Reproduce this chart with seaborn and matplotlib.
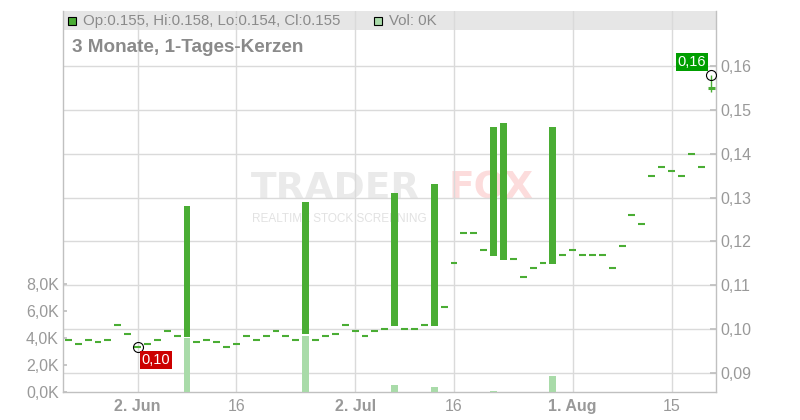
import numpy as np
import pandas as pd
import seaborn as sns
import matplotlib.pyplot as plt
from matplotlib.patches import Rectangle

# daily candles, 3 months (trading days only)
opens = [0.0975, 0.0966, 0.0975, 0.0971, 0.0975, 0.1009, 0.0989, 0.0959, 0.0966, 0.0975,
         0.0996, 0.0984, 0.0983, 0.0971, 0.0975, 0.0971, 0.0959, 0.0966, 0.0984, 0.0975,
         0.0984, 0.0996, 0.0984, 0.0975, 0.0989, 0.0975, 0.0984, 0.0989, 0.1009, 0.0996,
         0.0984, 0.0996, 0.1000, 0.1008, 0.1000, 0.1000, 0.1009, 0.1008, 0.1051, 0.1151,
         0.1219, 0.1219, 0.1180, 0.1167, 0.1158, 0.1160, 0.1119, 0.1139, 0.1151, 0.1149,
         0.1169, 0.1180, 0.1169, 0.1169, 0.1169, 0.1139, 0.1190, 0.1260, 0.1240, 0.1349,
         0.1370, 0.1361, 0.1349, 0.1399, 0.1370, 0.1550]
closes = [0.0975, 0.0966, 0.0975, 0.0971, 0.0975, 0.1009, 0.0989, 0.0959, 0.0966, 0.0975,
          0.0996, 0.0984, 0.1281, 0.0971, 0.0975, 0.0971, 0.0959, 0.0966, 0.0984, 0.0975,
          0.0984, 0.0996, 0.0984, 0.0975, 0.1290, 0.0975, 0.0984, 0.0989, 0.1009, 0.0996,
          0.0984, 0.0996, 0.1000, 0.1311, 0.1000, 0.1000, 0.1009, 0.1331, 0.1051, 0.1151,
          0.1219, 0.1219, 0.1180, 0.1462, 0.1470, 0.1160, 0.1119, 0.1139, 0.1151, 0.1462,
          0.1169, 0.1180, 0.1169, 0.1169, 0.1169, 0.1139, 0.1190, 0.1260, 0.1240, 0.1349,
          0.1370, 0.1361, 0.1349, 0.1399, 0.1370, 0.1550]
highs = [0.0975, 0.0966, 0.0975, 0.0971, 0.0975, 0.1009, 0.0989, 0.0959, 0.0966, 0.0975,
         0.0996, 0.0984, 0.1281, 0.0971, 0.0975, 0.0971, 0.0959, 0.0966, 0.0984, 0.0975,
         0.0984, 0.0996, 0.0984, 0.0975, 0.1290, 0.0975, 0.0984, 0.0989, 0.1009, 0.0996,
         0.0984, 0.0996, 0.1000, 0.1311, 0.1000, 0.1000, 0.1009, 0.1331, 0.1051, 0.1151,
         0.1219, 0.1219, 0.1180, 0.1462, 0.1470, 0.1160, 0.1119, 0.1139, 0.1151, 0.1462,
         0.1169, 0.1180, 0.1169, 0.1169, 0.1169, 0.1139, 0.1190, 0.1260, 0.1240, 0.1349,
         0.1370, 0.1361, 0.1349, 0.1399, 0.1370, 0.1580]
lows = [0.0975, 0.0966, 0.0975, 0.0971, 0.0975, 0.1009, 0.0989, 0.0959, 0.0966, 0.0975,
        0.0996, 0.0984, 0.0983, 0.0971, 0.0975, 0.0971, 0.0959, 0.0966, 0.0984, 0.0975,
        0.0984, 0.0996, 0.0984, 0.0975, 0.0989, 0.0975, 0.0984, 0.0989, 0.1009, 0.0996,
        0.0984, 0.0996, 0.1000, 0.1008, 0.1000, 0.1000, 0.1009, 0.1008, 0.1051, 0.1151,
        0.1219, 0.1219, 0.1180, 0.1167, 0.1158, 0.1160, 0.1119, 0.1139, 0.1151, 0.1149,
        0.1169, 0.1180, 0.1169, 0.1169, 0.1169, 0.1139, 0.1190, 0.1260, 0.1240, 0.1349,
        0.1370, 0.1361, 0.1349, 0.1399, 0.1370, 0.1540]
# volume in thousand shares
volumes = [0, 0, 0, 0, 0, 0, 0, 0, 0, 0, 0, 0, 4.0, 0, 0, 0, 0, 0, 0, 0,
           0, 0, 0, 0, 4.2, 0, 0, 0, 0, 0, 0, 0, 0, 0.52, 0, 0, 0, 0.37, 0, 0,
           0, 0, 0, 0.1, 0, 0, 0, 0, 0, 1.19, 0, 0, 0, 0, 0, 0, 0, 0, 0, 0,
           0, 0, 0, 0, 0, 0]

date_ticks = [7, 17, 29, 39, 51, 61]
date_labels = ['2. Jun', '16', '2. Jul', '16', '1. Aug', '15']
price_ticks = [0.09, 0.10, 0.11, 0.12, 0.13, 0.14, 0.15, 0.16]
price_labels = ['0,09', '0,10', '0,11', '0,12', '0,13', '0,14', '0,15', '0,16']
vol_ticks = [0, 2, 4, 6, 8]
vol_labels = ['0,0K', '2,0K', '4,0K', '6,0K', '8,0K']

green = '#4aad34'
light_green = '#a9dba9'
grey_txt = '#999999'
grid_col = '#dadada'

sns.set_theme(style='white')
plt.rcParams['font.family'] = ['Liberation Sans', 'DejaVu Sans']

fig = plt.figure(figsize=(8, 4.2), dpi=100)
ax = fig.add_axes([63 / 800, 28 / 420, 653 / 800, 381 / 420])
axv = ax.twinx()
n = len(closes)
idx = np.arange(n)

# volume bars (left axis)
vol_df = pd.DataFrame({'day': idx, 'vol': volumes})
sns.barplot(data=vol_df, x='day', y='vol', native_scale=True, width=0.7,
            color=light_green, saturation=1, errorbar=None, ax=axv, zorder=2,
            linewidth=0)
# same width as the candle bodies
for p in axv.patches:
    c = p.get_x() + p.get_width() / 2
    p.set_width(0.7)
    p.set_x(c - 0.35)

# candles (right axis)
for i in range(n):
    if highs[i] > max(opens[i], closes[i]) or lows[i] < min(opens[i], closes[i]):
        ax.vlines(i, lows[i], highs[i], color=green, lw=1, zorder=3)
    if closes[i] != opens[i]:
        ax.bar(i, closes[i] - opens[i], bottom=opens[i], width=0.7, color=green,
               linewidth=0, zorder=3)
    else:
        lw = 2.2 if i == n - 1 else 1.5
        ax.hlines(closes[i], i - 0.35, i + 0.35, color=green, lw=lw, zorder=3)

# min / max markers
lo_i = 7
hi_i = n - 1
ax.plot([lo_i, hi_i], [lows[lo_i], highs[hi_i]], 'o', ms=7.2, mfc='none', mec='black',
        mew=0.8, zorder=6)
ax.annotate('0,10', xy=(lo_i, lows[lo_i]), xytext=(4, -6), textcoords='offset pixels',
            ha='left', va='top', color='white', fontsize=10.5, zorder=7,
            bbox=dict(boxstyle='square,pad=0.12', fc='#cc0000', ec='none'))
ax.annotate('0,16', xy=(hi_i, highs[hi_i]), xytext=(-5, 6), textcoords='offset pixels',
            ha='right', va='bottom', color='white', fontsize=10.5, zorder=7,
            bbox=dict(boxstyle='square,pad=0.12', fc='#009e00', ec='none'))

# axes ranges
ax.set_xlim(-0.54, 65.5)
ax.set_ylim(0.08567, 0.17254)
axv.set_ylim(0, 28.35)

ax.yaxis.tick_right()
axv.yaxis.tick_left()
ax.set_yticks(price_ticks)
ax.set_yticklabels(price_labels)
axv.set_yticks(vol_ticks)
axv.set_yticklabels(vol_labels)
ax.set_xticks(date_ticks)
ax.set_xticklabels(date_labels)
for lab in ax.get_xticklabels():
    if not lab.get_text().isdigit():
        lab.set_fontweight('bold')
ax.set_xlabel('')
axv.set_xlabel('')
ax.set_ylabel('')
axv.set_ylabel('')

ax.set_axisbelow(True)
ax.grid(True, color=grid_col, lw=1)
ax.tick_params(axis='y', direction='in', length=4, color='#c0c0c0', labelcolor=grey_txt,
               labelsize=11.5, pad=3, right=True, left=False)
axv.tick_params(axis='y', direction='in', length=3, color='#c0c0c0', labelcolor=grey_txt,
                labelsize=11.5, pad=3)
ax.tick_params(axis='x', direction='in', length=0, labelcolor=grey_txt, labelsize=11.5, pad=5)

for s in ['left', 'bottom', 'right']:
    ax.spines[s].set_color('#c0c0c0')
    ax.spines[s].set_linewidth(1)
ax.spines['top'].set_visible(False)
for s in axv.spines.values():
    s.set_visible(False)

# header band and captions
ax.add_patch(Rectangle((0, 0.9501), 1, 0.0499, transform=ax.transAxes, fc='#e6e6e6',
                       ec='none', zorder=0.1, clip_on=False))
ax.plot([0.0138], [0.975], 's', ms=5.8, mfc=green, mec='black', mew=0.8,
        transform=ax.transAxes, clip_on=False, zorder=6)
ax.text(0.0306, 0.975, 'Op:0.155, Hi:0.158, Lo:0.154, Cl:0.155', transform=ax.transAxes,
        va='center', ha='left', fontsize=10.8, color='#8a8a8a', zorder=6)
ax.plot([0.482], [0.975], 's', ms=5.8, mfc=light_green, mec='black', mew=0.8,
        transform=ax.transAxes, clip_on=False, zorder=6)
ax.text(0.499, 0.975, 'Vol: 0K', transform=ax.transAxes, va='center', ha='left',
        fontsize=10.8, color='#8a8a8a', zorder=6)
ax.text(0.0138, 0.9055, '3 Monate, 1-Tages-Kerzen', transform=ax.transAxes, va='center',
        ha='left', fontsize=13.6, fontweight='bold', color='#8a8a8a', zorder=6)

# faint watermark
ax.text(0.418, 0.534, 'TRADER', transform=ax.transAxes, ha='center', va='center',
        fontsize=27, fontweight='bold', color='#eaeaea', zorder=0.2,
        family=['DejaVu Sans'])
ax.text(0.655, 0.534, 'FOX', transform=ax.transAxes, ha='center', va='center',
        fontsize=27, fontweight='bold', color='#fcdcdc', zorder=0.2,
        family=['DejaVu Sans'])
ax.text(0.423, 0.454, 'REALTIME STOCK SCREENING', transform=ax.transAxes, ha='center',
        va='center', fontsize=8.5, color='#e2e2e2', zorder=0.2)

fig.savefig('out.png', dpi=100)
